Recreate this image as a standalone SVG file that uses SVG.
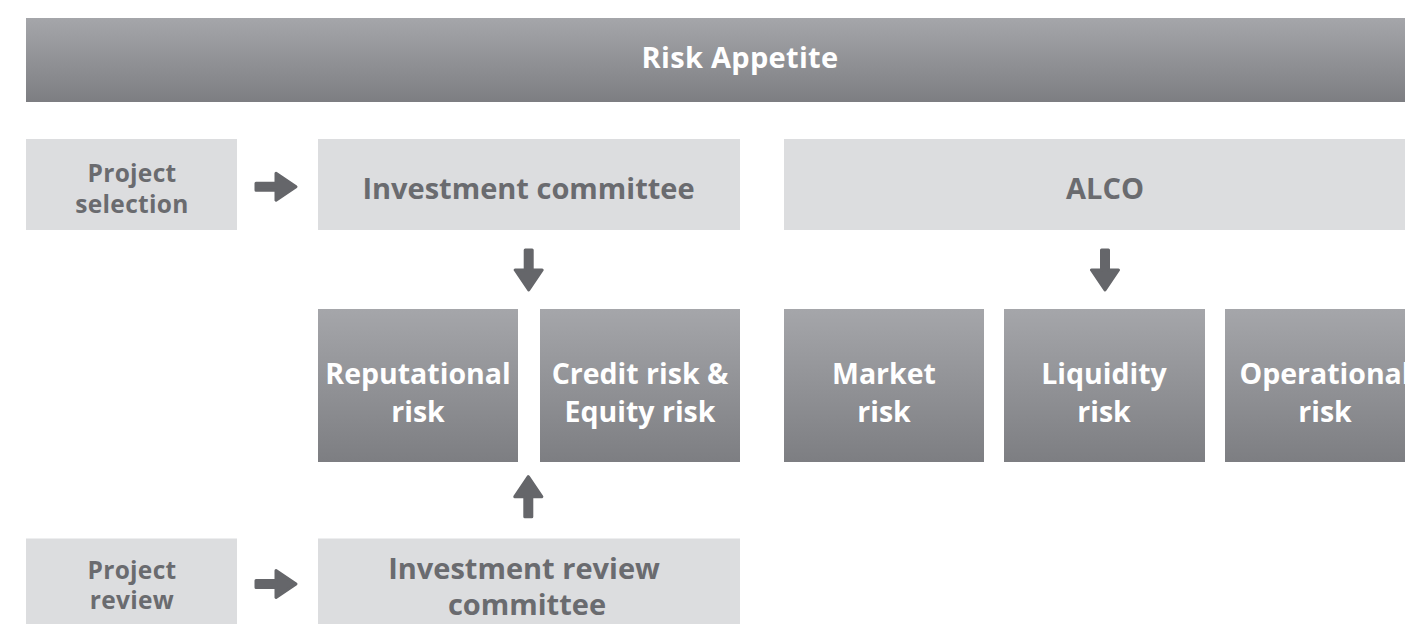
<svg xmlns="http://www.w3.org/2000/svg" width="1405" height="624" viewBox="0 0 1405 624">
  <defs>
    <linearGradient id="darkFill" x1="0" y1="0" x2="0" y2="1">
      <stop offset="0" stop-color="#a5a6aa"/>
      <stop offset="1" stop-color="#7d7e82"/>
    </linearGradient>
    <!-- block arrow pointing right, centred on the origin -->
    <path id="arrowR" d="M-20,-3.5 L0,-3.5 L0,-13.5 L20,0 L0,13.5 L0,3.5 L-20,3.5 Z"/>
  </defs>
  <style>
    .dark { fill: url(#darkFill); }
    .light { fill: #dcdddf; }
    .t { font-family: "Open Sans", "Liberation Sans", sans-serif; font-weight: bold; text-anchor: middle; }
    .tw { fill: #ffffff; font-size: 28.5px; }
    .tg { fill: #6a6b6f; }
    .big { font-size: 29px; }
    .small { font-size: 24.5px; letter-spacing: 0.3px; }
    .arrow { fill: #65666a; stroke: #65666a; stroke-width: 3; stroke-linejoin: round; }
  </style>

  <rect width="1405" height="624" fill="#ffffff"/>

  <g id="risk-appetite">
    <rect class="dark" x="26" y="18" width="1379" height="84"/>
    <text class="t" x="740" y="68" fill="#ffffff" font-size="29" letter-spacing="0.3">Risk Appetite</text>
  </g>

  <g id="project-selection">
    <rect class="light" x="26" y="139" width="211" height="91"/>
    <text class="t tg small" x="132" y="181.5">Project</text>
    <text class="t tg small" x="132" y="213">selection</text>
  </g>

  <g id="investment-committee">
    <rect class="light" x="318" y="139" width="422" height="91"/>
    <text class="t tg big" x="528.5" y="199">Investment committee</text>
  </g>

  <g id="alco">
    <rect class="light" x="784" y="139" width="621" height="91"/>
    <text class="t tg big" x="1105" y="199">ALCO</text>
  </g>

  <g id="reputational-risk">
    <rect class="dark" x="318" y="309" width="200" height="153"/>
    <text class="t tw" x="418" y="383.5">Reputational</text>
    <text class="t tw" x="418" y="421.5">risk</text>
  </g>

  <g id="credit-equity-risk">
    <rect class="dark" x="540" y="309" width="200" height="153"/>
    <text class="t tw" x="640" y="383.5">Credit risk &amp;</text>
    <text class="t tw" x="640" y="421.5">Equity risk</text>
  </g>

  <g id="market-risk">
    <rect class="dark" x="784" y="309" width="200" height="153"/>
    <text class="t tw" x="884" y="383.5">Market</text>
    <text class="t tw" x="884" y="421.5">risk</text>
  </g>

  <g id="liquidity-risk">
    <rect class="dark" x="1004" y="309" width="201" height="153"/>
    <text class="t tw" x="1104" y="383.5">Liquidity</text>
    <text class="t tw" x="1104" y="421.5">risk</text>
  </g>

  <g id="operational-risk">
    <rect class="dark" x="1225" y="309" width="180" height="153"/>
    <text class="t tw" x="1325" y="383.5">Operational</text>
    <text class="t tw" x="1325" y="421.5">risk</text>
  </g>

  <g id="project-review">
    <rect class="light" x="26" y="538.5" width="211" height="85.5"/>
    <text class="t tg small" x="132" y="579">Project</text>
    <text class="t tg small" x="132" y="608.5">review</text>
  </g>

  <g id="investment-review-committee">
    <rect class="light" x="318" y="538.5" width="422" height="85.5"/>
    <text class="t tg big" x="524" y="578.5">Investment review</text>
    <text class="t tg big" x="527" y="615">committee</text>
  </g>

  <g id="connectors">
    <use href="#arrowR" class="arrow" transform="translate(276,186.7)"/>
    <use href="#arrowR" class="arrow" transform="translate(276,584)"/>
    <use href="#arrowR" class="arrow" transform="translate(528.7,270) rotate(90)"/>
    <use href="#arrowR" class="arrow" transform="translate(1105,270) rotate(90)"/>
    <use href="#arrowR" class="arrow" transform="translate(528.3,496.7) rotate(-90)"/>
  </g>
</svg>
